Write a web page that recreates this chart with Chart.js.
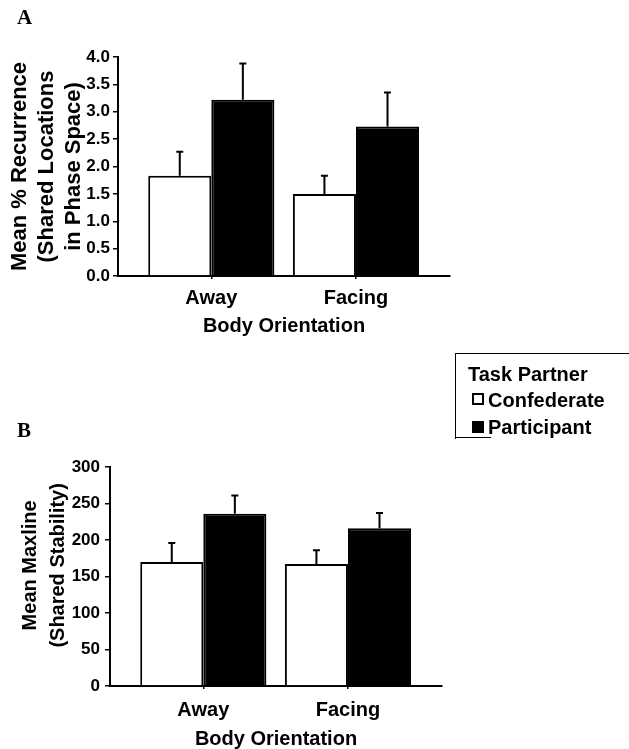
<!DOCTYPE html>
<html><head><meta charset="utf-8">
<script src="https://cdn.jsdelivr.net/npm/chart.js@4.4.1/dist/chart.umd.min.js"></script>
<style>
html,body{margin:0;padding:0;background:#fff;overflow:hidden;width:629px;height:749px;}
#wrap{position:relative;width:629px;height:749px;overflow:hidden;}
canvas{position:absolute;left:0;}
.panel{position:absolute;font-family:"Liberation Serif","Times New Roman",serif;font-weight:bold;font-size:21px;line-height:21px;color:#000;}
.leg{position:absolute;font-family:"Liberation Sans",Arial,sans-serif;font-weight:bold;font-size:20px;line-height:26px;color:#000;white-space:nowrap;}
.sq{position:absolute;width:12px;height:12px;box-sizing:border-box;border:2px solid #000;}
#legbox{position:absolute;left:455px;top:353px;width:200px;height:86px;border-top:1.5px solid #000;border-left:1.5px solid #000;box-sizing:border-box;}
#legbot{position:absolute;left:455px;top:437px;width:36px;height:0;border-top:1.5px solid #000;}
</style>
</head><body>
<div id="wrap">
  <canvas id="chartA" width="470" height="340" style="top:0;width:470px;height:340px"></canvas>
  <canvas id="chartB" width="470" height="351" style="top:400px;width:470px;height:351px"></canvas>
  <div class="panel" style="left:17px;top:7px">A</div>
  <div class="panel" style="left:17px;top:420px">B</div>
  <div id="legbox"></div>
  <div id="legbot"></div>
  <div id="legend"></div>
</div>
<script>
// ---- data ----
const categories = ['Away', 'Facing'];
const seriesNames = ['Confederate', 'Participant'];
const legendTitle = 'Task Partner';
const xTitle = 'Body Orientation';

// Panel A: Mean % Recurrence
const recurConfederate = [1.83, 1.50];
const recurConfederateErr = [0.44, 0.33];
const recurParticipant = [3.22, 2.73];
const recurParticipantErr = [0.66, 0.62];
const recurTicks = [0.0, 0.5, 1.0, 1.5, 2.0, 2.5, 3.0, 3.5, 4.0];
const recurTitle = ['Mean % Recurrence', '(Shared Locations', 'in Phase Space)'];

// Panel B: Mean Maxline
const maxConfederate = [170, 167];
const maxConfederateErr = [26, 19];
const maxParticipant = [236, 216];
const maxParticipantErr = [25, 21];
const maxTicks = [0, 50, 100, 150, 200, 250, 300];
const maxTitle = ['\u00a0\u00a0\u00a0\u00a0Mean Maxline', '\u00a0\u00a0\u00a0\u00a0(Shared Stability)'];

// ---- legend (HTML) ----
const leg = document.getElementById('legend');
leg.innerHTML =
  '<div class="leg" style="left:468px;top:361px">' + legendTitle + '</div>' +
  '<div class="sq" style="left:472px;top:393px;background:#fff"></div>' +
  '<div class="leg" style="left:488px;top:387px">' + seriesNames[0] + '</div>' +
  '<div class="sq" style="left:472px;top:421px;background:#000"></div>' +
  '<div class="leg" style="left:488px;top:414px">' + seriesNames[1] + '</div>';

Chart.defaults.font.family = '"Liberation Sans", Arial, sans-serif';
Chart.defaults.color = '#000';

const errorBars = {
  id: 'errorBars',
  afterDatasetsDraw(chart) {
    const ctx = chart.ctx, ys = chart.scales.y;
    chart.data.datasets.forEach((ds, di) => {
      const meta = chart.getDatasetMeta(di);
      meta.data.forEach((bar, i) => {
        const v = ds.data[i].y, e = ds.errors[i];
        const yTop = ys.getPixelForValue(v + e);
        const yBar = ys.getPixelForValue(v);
        ctx.save();
        ctx.strokeStyle = '#000';
        ctx.lineWidth = 2;
        ctx.beginPath();
        ctx.moveTo(bar.x, yBar);
        ctx.lineTo(bar.x, yTop);
        ctx.moveTo(bar.x - 3.5, yTop);
        ctx.lineTo(bar.x + 3.5, yTop);
        ctx.stroke();
        ctx.restore();
      });
    });
  }
};

function pts(vals) { return vals.map((v, i) => ({ x: i, y: v })); }

function makeChart(id, cfg) {
  return new Chart(document.getElementById(id), {
    type: 'bar',
    data: {
      datasets: [
        { label: seriesNames[0], data: pts(cfg.conf), errors: cfg.confErr,
          backgroundColor: '#fff', borderColor: '#000', borderWidth: 2 },
        { label: seriesNames[1], data: pts(cfg.part), errors: cfg.partErr,
          backgroundColor: '#000', borderColor: '#000', borderWidth: 2 }
      ]
    },
    options: {
      responsive: false,
      devicePixelRatio: 1,
      animation: false,
      datasets: { bar: { categoryPercentage: 0.872, barPercentage: 1.0 } },
      layout: { padding: { top: cfg.padTop, right: cfg.padRight, left: 0, bottom: 0 } },
      plugins: { legend: { display: false }, tooltip: { enabled: false } },
      scales: {
        x: {
          type: 'linear',
          offset: false,
          bounds: 'data',
          min: -0.645, max: 1.65,
          afterBuildTicks: s => { s.ticks = categories.map((c, i) => ({ value: i })); },
          afterFit: s => { s.height = cfg.xHeight; },
          border: { color: '#000', width: 2 },
          grid: { offset: false, drawOnChartArea: false, drawTicks: true, tickLength: 3, color: '#000', lineWidth: 1.5 },
          ticks: { padding: cfg.xPad, font: { size: 20, weight: 'bold' }, color: '#000',
                   maxRotation: 0, autoSkip: false,
                   callback: v => categories[v] },
          title: { display: true, text: xTitle, color: '#000',
                   font: { size: 20, weight: 'bold', lineHeight: 1.2 },
                   padding: { top: 0, bottom: cfg.xTitlePad } }
        },
        y: {
          type: 'linear',
          min: cfg.ticks[0], max: cfg.ticks[cfg.ticks.length - 1],
          afterBuildTicks: s => { s.ticks = cfg.ticks.map(v => ({ value: v })); },
          afterFit: s => { s.width = cfg.yWidth; },
          border: { color: '#000', width: 2 },
          grid: { drawOnChartArea: false, drawTicks: true, tickLength: 5, color: '#000', lineWidth: 1.5 },
          ticks: { padding: cfg.yPad, font: { size: 17, weight: 'bold' }, color: '#000',
                   autoSkip: false, callback: cfg.fmt },
          title: { display: true, text: cfg.title, color: '#000',
                   font: { size: cfg.titleSize, weight: 'bold', lineHeight: cfg.titleLH },
                   padding: { top: cfg.titlePadTop, bottom: 0 } }
        }
      }
    },
    plugins: [errorBars]
  });
}

makeChart('chartA', {
  conf: recurConfederate, confErr: recurConfederateErr,
  part: recurParticipant, partErr: recurParticipantErr,
  ticks: recurTicks, fmt: v => Number(v).toFixed(1),
  title: recurTitle, titleSize: 22, titleLH: '27px', titlePadTop: 6.5,
  padTop: 57, padRight: 20, yWidth: 118, xHeight: 64, xPad: 7, xTitlePad: 2, yPad: 3
});

makeChart('chartB', {
  conf: maxConfederate, confErr: maxConfederateErr,
  part: maxParticipant, partErr: maxParticipantErr,
  ticks: maxTicks, fmt: v => String(v),
  title: maxTitle, titleSize: 20, titleLH: '28px', titlePadTop: 16,
  padTop: 67, padRight: 28, yWidth: 110, xHeight: 65, xPad: 9, xTitlePad: 0, yPad: 5
});
</script>
</body></html>
